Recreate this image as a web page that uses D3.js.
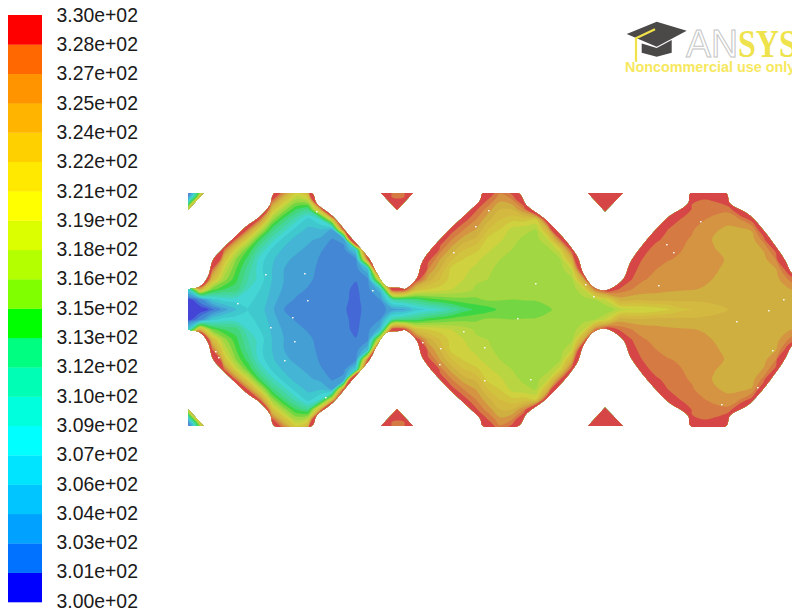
<!DOCTYPE html>
<html><head><meta charset="utf-8">
<script src="https://cdn.jsdelivr.net/npm/d3@7"></script>
<style>html,body{margin:0;background:#fff}svg{display:block}</style></head>
<body><svg id="c" width="792" height="613"></svg>
<script>
// Legend
const tickLabels = ["3.30e+02","3.28e+02","3.27e+02","3.25e+02","3.24e+02","3.22e+02","3.21e+02","3.19e+02","3.18e+02","3.16e+02","3.15e+02","3.13e+02","3.12e+02","3.10e+02","3.09e+02","3.07e+02","3.06e+02","3.04e+02","3.03e+02","3.01e+02","3.00e+02"];
const bandColors = ["#0000ff","#0072ff","#00a1ff","#00c5ff","#00e4ff","#00ffff","#00ffdc","#00ffb4","#00ff80","#00ff00","#80ff00","#b4ff00","#dcff00","#ffff00","#ffe900","#ffd000","#ffb400","#ff9300","#ff6800","#ff0000"];
const baseTemp = 300, levelStep = 1.5;
// Contour levels (in steps above baseTemp) and the lit colours the field shows for them
const fieldLevels = [0,0.5,1,2,3,4,5,6,7,8,9,10,11,12,13,14,15,16,17,18,19];
const fieldColors = ["#4444d6","#4469d6","#4487d4","#44a0d4","#44b5d4","#40c8cf","#44d6d4","#44d6b7","#44d69a","#44d67d","#3cd644","#73d642","#a0d742","#b9d642","#cfd23e","#d2c33e","#d4b940","#d0af41","#d49442","#d67a44","#d64646"];
// Temperature field, in levels above baseTemp. One list per column; rows go from the centreline (d=0) to d=120, mirrored below.
const gridColumnX = d3.range(52).map(i => 188 + 12 * i);
const gridRowD = [0,10,20,30,40,50,60,70,80,90,100,110,120];
const fieldColumns = [
[0,0,5,30,30,30,30,30,30,30,30,30,30],
[0,1.5,16,28,30,30,30,30,30,30,30,30,30],
[0.7,4.5,10.5,15.5,19,28,30,30,30,30,30,30,30],
[2.5,5.5,9,11.5,13,15,19,28,30,30,30,30,30],
[4,5.5,8.5,9.3,10,11,13.5,18.5,28,30,30,30,30],
[5,5.2,6,7,7.5,8.5,10,13.5,18.5,27,30,30,30],
[4.5,4.8,5,5.5,5.3,5.5,7,9,13,18.5,28,30,30],
[3.2,3.5,3.8,4,4,4.2,4.8,6.5,8.5,11.5,15,19.5,26],
[2,2.4,2.8,3,3,3.2,3.8,4.5,6.5,8.5,11.5,15,19],
[1.2,1.9,2.3,2.5,2.5,2.8,3.2,3.7,4.5,6.5,9,12,15],
[1.3,1.5,1.9,2.2,2.3,2.5,2.8,3.2,3.8,4.5,8,13,18],
[1.4,1.5,1.6,1.7,1.8,1.9,2.1,2.8,4,6,16,30,30],
[1.5,1.5,1.5,1.5,1.5,1.6,1.7,1.9,3,14,32,30,30],
[1.1,1.2,1.2,1.4,1.5,1.6,1.7,2.4,20,30,30,30,30],
[.6,.7,.8,1.05,1.5,1.7,5,35,30,30,30,30,30],
[1.5,1.6,1.7,1.8,4,19,30,30,30,30,30,30,30],
[1.7,2,3.5,15,30,30,30,30,30,30,30,30,30],
[2.3,7,20,30,30,30,30,30,30,30,30,19.3,18],
[2.8,8,20,30,30,30,30,30,30,30,30,19.3,18],
[4.5,8.5,15,20,30,30,30,30,30,30,30,30,30],
[5.2,9.5,14,16.5,18,19.5,28,30,30,30,30,30,30],
[6,10,13.5,15,16,17,18.5,20,30,30,30,30,30],
[7.2,10.5,13,13.5,13.5,15,16.5,18,19.5,28,30,30,30],
[8.5,10.7,12.5,13,13.2,13.9,15,16.5,18,19.5,28,30,30],
[9.2,10.8,11.8,12.2,12.8,13.2,14.3,15.8,17,18,19.2,30,30],
[9.5,11.2,11.5,12,12.2,12.6,13.2,13.7,15,16.3,17.5,19,20],
[10.2,11.1,11.3,11.5,11.7,12,12.5,13.2,14,15,16,17.3,18.5],
[10.4,11,11.1,11.2,11.4,11.7,12,12.3,12.7,14.3,16,18,20],
[10.5,11.05,11.1,11.1,11.2,11.3,11.5,11.8,12.3,14.5,18,21,28],
[10.7,11.05,11.1,11.1,11.2,11.3,11.4,11.6,12,14,24,30,30],
[10.95,11.1,11.1,11.1,11.2,11.3,11.6,13,16,22,30,30,30],
[11.1,11.1,11.2,11.3,11.5,11.8,13.5,18.5,28,30,30,30,30],
[11.2,11.2,11.4,11.8,13,16,20,30,30,30,30,30,30],
[11.2,11.6,13,17,24,30,30,30,30,30,30,30,30],
[11.1,12,18.5,30,30,30,30,30,30,30,30,30,30],
[11.3,13.5,20.5,30,30,30,30,30,30,30,30,30,30],
[12.5,16.5,18.7,22,30,30,30,30,30,30,30,30,30],
[12.9,16.3,18,19,19.5,20,30,30,30,30,30,30,30],
[13,16.2,17.6,18.05,18.3,18.8,19.5,28,30,30,30,30,30],
[13.4,16.5,17.3,17.8,18,18.2,18.4,19.3,26,30,30,30,30],
[13.9,16.3,17.2,17.5,17.7,18.05,18.3,18.5,19,21,30,30,30],
[14.7,16.3,17.1,17.4,17.6,17.9,18.05,18.2,18.4,19,23,30,30],
[15,16.2,17.05,17.3,17.4,17.7,17.8,17.9,18.1,18.4,18.8,19.2,20],
[15.5,16.2,16.9,17.2,17.3,17.4,17.4,17.4,17.6,18.05,18.4,19,19.8],
[15.8,16.2,16.6,16.9,17.1,17.2,17,16.8,17.1,17.6,18.4,19.2,19.8],
[16,16.2,16.4,16.5,16.7,16.9,16.7,16.6,16.8,17.3,18.3,20.5,30],
[16.2,16.2,16.3,16.3,16.4,16.4,16.4,16.5,16.8,18,20.5,30,30],
[16.2,16.3,16.3,16.3,16.4,16.4,16.5,16.6,17.1,19.5,30,30,30],
[16.3,16.3,16.4,16.4,16.5,16.7,17.1,18.5,21,30,30,30,30],
[16.4,16.4,16.5,16.6,16.9,18,19.5,28,30,30,30,30,30],
[16.4,16.5,16.8,18,19.8,30,30,30,30,30,30,30,30],
[16.5,16.6,17.5,19.5,25,30,30,30,30,30,30,30,30]
];
// Small corner patches at the inlet side, levels again; x columns, d rows
const cornerX = [188,192,196,200,204,208];
const cornerD = [117,113,109,105,101,97];
const cornerField = [
[0,3,7,11,17,25],
[2,5,9,15,22,30],
[5,9,14,20,30,30],
[9,14,20,30,30,30],
[14,20,30,30,30,30],
[20,30,30,30,30,30]
];
// Fluid domain outline (upper half; the lower half mirrors it), as [x, d]
const wallTop = [[188,20.5],[200,23],[208,33],[213,49.5],[223,61],[237,74.5],[248,84.5],[260,93],[270,104.5],[274.5,116.5],[311.7,116.5],[316.7,106],[333,93],[350,73],[370,49.5],[376.7,36.5],[386.7,23],[400,21.5],[405,20.5],[416.7,31],[423,49],[446.7,77],[470,99],[480,109],[483,116.5],[518.3,116.5],[526.7,104],[546.7,89],[576.7,54],[583.3,36],[593.3,22.5],[605,19],[623,30],[631.7,49.5],[666.7,91],[688,106],[690.7,116.5],[726,116.5],[730,106],[750,94],[783,52.5],[792,36],[800,30]];
const islands = [[[381,116.5],[413,116.5],[397,99.5]],[[588,116.5],[623,116.5],[605,98]]];
const cornerTriangle = [[188.5,116.5],[203.5,116.5],[188.5,100]];
const speckles = [[265,35.5],[304,36.5],[307,9.5],[292,-7.5],[270,-17.5],[294,-31.5],[284,-50.5],[215,-41.5],[218,-47.5],[237,6.5],[316,98.5],[372,19.5],[325,-87.5],[488,99.5],[475,83.5],[453,57.5],[535,26.5],[585,25.5],[593,13.5],[517,-8.5],[463,-21.5],[422,-32.5],[440,-38.5],[484,-37.5],[439,-54.5],[484,-70.5],[530,-69.5],[700,88.5],[666,65.5],[673,57.5],[658,24.5],[783,10.5],[768,-0.5],[736,-11.5],[772,-40.5],[757,-77.5],[721,-94.5]];

const svg = d3.select("#c");
const temps = fieldLevels.map(l => baseTemp + levelStep * l);

// Scales
const x = d3.scaleLinear().domain([188,792]).range([188,792]);
const y = d3.scaleLinear().domain([-120,120]).range([429.5,189.5]);
const gx = d3.scaleLinear().domain([0,gridColumnX.length-1]).range([x(gridColumnX[0]),x(gridColumnX[gridColumnX.length-1])]);
const rowsFull = [...gridRowD.slice().reverse(), ...gridRowD.slice(1).map(d=>-d)];
const gy = d3.scaleLinear().domain([0,rowsFull.length-1]).range([y(rowsFull[0]),y(rowsFull[rowsFull.length-1])]);

// Clip paths
const defs = svg.append("defs");
const line = d3.line().x(d=>x(d[0])).y(d=>y(d[1]));
const wallLine = d3.line().x(d=>x(d[0])).y(d=>y(d[1])).curve(d3.curveCatmullRom.alpha(0.5));
const mirror = p => p.map(d=>[d[0],-d[1]]);
const clip = defs.append("clipPath").attr("id","domain");
clip.append("path").attr("d", wallLine(wallTop)+"L"+wallLine(mirror(wallTop).reverse()).slice(1)+"Z");
[...islands, ...islands.map(mirror)].forEach(t => clip.append("path").attr("d", line(t)+"Z"));
const clipC = defs.append("clipPath").attr("id","corners");
[cornerTriangle, mirror(cornerTriangle)].forEach(t => clipC.append("path").attr("d", line(t)+"Z"));
defs.append("clipPath").attr("id","band").append("rect")
  .attr("x",x(188)).attr("y",y(116.5)).attr("width",x(792)-x(188)).attr("height",y(-117.5)-y(116.5));

// Contour rings are drawn through a closed spline so they read as smooth isotherms
const ringLine = (sx,sy) => d3.line().x(d=>sx(d[0]-0.5)).y(d=>sy(d[1]-0.5)).curve(d3.curveCatmullRomClosed.alpha(0.5));
const contourPath = (geom,sx,sy) => {
  const l = ringLine(sx,sy);
  return geom.coordinates.map(poly => poly.map(ring => l(ring.slice(0,-1))).join("")).join("");
};

// Main contour field
const soft = svg.append("g").style("filter","blur(0.45px)").append("g").attr("clip-path","url(#band)");
const field = soft.append("g").attr("clip-path","url(#domain)");
const nx = fieldColumns.length, ny = rowsFull.length;
const values = [];
rowsFull.forEach(d => {
  const r = gridRowD.indexOf(Math.abs(d));
  fieldColumns.forEach(col => values.push(baseTemp + levelStep * col[r]));
});
field.selectAll("path").data(d3.contours().size([nx,ny]).smooth(true).thresholds(temps)(values)).join("path")
  .attr("d",d=>contourPath(d,gx,gy)).attr("fill",(d,i)=>fieldColors[i]);
field.selectAll("rect.sp").data(speckles).join("rect").attr("class","sp")
  .attr("x",d=>x(d[0])).attr("y",d=>y(d[1])).attr("width",1.6).attr("height",1.4).attr("fill","#fbfbf6");

// Corner patches
const cg = soft.append("g").attr("clip-path","url(#corners)");
[1,-1].forEach(sign => {
  const cx = d3.scaleLinear().domain([0,cornerX.length-1]).range([x(cornerX[0]),x(cornerX[cornerX.length-1])]);
  const cy = d3.scaleLinear().domain([0,cornerD.length-1]).range([y(sign*cornerD[0]),y(sign*cornerD[cornerD.length-1])]);
  const p = d3.geoPath(d3.geoTransform({point(a,b){this.stream.point(cx(a-0.5),cy(b-0.5));}}));
  const vals = cornerField.flat().map(v => baseTemp + levelStep * v);
  cg.append("g").selectAll("path").data(d3.contours().size([cornerX.length,cornerD.length]).thresholds(temps)(vals)).join("path")
    .attr("d",p).attr("fill",(d,i)=>fieldColors[i]);
});

// Colour legend
const bandScale = d3.scaleBand().domain(d3.range(bandColors.length).reverse()).range([15,602]);
svg.append("g").selectAll("rect").data(bandColors).join("rect")
  .attr("x",8).attr("width",34).attr("y",(d,i)=>bandScale(i)).attr("height",bandScale.bandwidth()+0.3).attr("fill",d=>d);
const labelScale = d3.scalePoint().domain(tickLabels).range([15,601]);
const axis = d3.axisRight(labelScale).tickSize(0).tickPadding(0);
const ag = svg.append("g").attr("transform","translate(56.5,0)").call(axis);
ag.select(".domain").remove();
ag.selectAll("text").attr("font-family","'Liberation Sans',sans-serif").attr("font-size",19.4).attr("fill","#1a1a1a");

// Watermark
const logo = svg.append("g");
logo.append("path").attr("d","M626.7 34L656.7 21.7L686.7 30.7L656.7 46.7Z").attr("fill","#4b4848");
logo.append("path").attr("d","M641.7 43.5V52.7L656.7 56.7L671.7 52.7V40L656.7 48Z").attr("fill","#4b4848");
logo.append("path").attr("d","M655 29.3L636 38.3V61.7").attr("fill","none").attr("stroke","#f2e24a").attr("stroke-width",2.2);
logo.append("text").attr("x",686).attr("y",56.5).attr("font-family","'Liberation Sans',sans-serif").attr("font-size",38)
  .attr("fill","#fff").attr("stroke","#c4c4c4").attr("stroke-width",1).attr("textLength",52).attr("lengthAdjust","spacingAndGlyphs").text("AN");
logo.append("text").attr("transform","translate(738,56.5) scale(0.8,1)").attr("font-family","'Liberation Serif',serif").attr("font-weight","bold").attr("font-size",40)
  .attr("fill","#eee34c").text("SYS");
logo.append("text").attr("x",625).attr("y",71.5).attr("font-family","'Liberation Sans',sans-serif").attr("font-weight","bold").attr("font-size",14.4)
  .attr("fill","#f6e85e").text("Noncommercial use only");
</script></body></html>
